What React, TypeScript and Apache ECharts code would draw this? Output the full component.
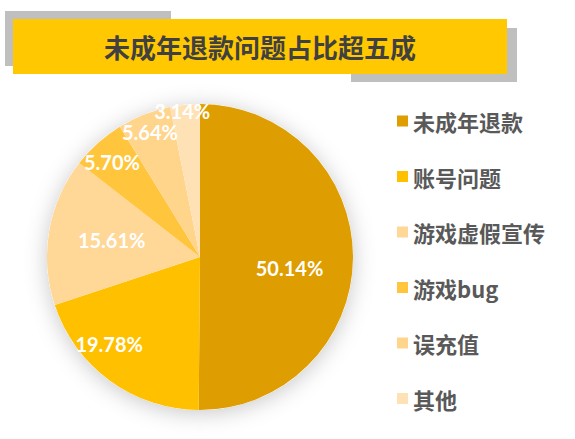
import React, { useEffect, useRef } from "react";
import * as echarts from "echarts";

const titleText = "未成年退款问题占比超五成";
const categories = ["未成年退款", "账号问题", "游戏虚假宣传", "游戏bug", "误充值", "其他"];
const values = [50.14, 19.78, 15.61, 5.7, 5.64, 3.14];
const colors = ["#DE9D00", "#FFC000", "#FFD796", "#FFC53C", "#FFD48B", "#FFE1B6"];
// label nudges (styling, px) relative to the default inside position
const labelOffsets: [number, number][] = [
  [10, 11],
  [-44, 23],
  [-10, -3],
  [-35, -36],
  [-21, -51],
  [-10, -67],
];

export default function App() {
  const ref = useRef<HTMLDivElement>(null);
  useEffect(() => {
    if (!ref.current) return;
    const chart = echarts.init(ref.current, null, { renderer: "svg" });
    const option: any = {
      animation: false,
      backgroundColor: "#ffffff",
      graphic: [
        { type: "rect", shape: { x: 5, y: 11, width: 166, height: 55 }, style: { fill: "#BFBFBF" }, z: 1 },
        { type: "rect", shape: { x: 351, y: 28, width: 166, height: 54 }, style: { fill: "#BFBFBF" }, z: 1 },
        { type: "rect", shape: { x: 13, y: 19, width: 494, height: 55 }, style: { fill: "#FFC800" }, z: 2 },
        {
          type: "text",
          x: 260,
          y: 46,
          z: 3,
          style: {
            text: titleText,
            fill: "#404040",
            font: "bold 26px 'Noto Sans CJK SC'",
            align: "center",
            verticalAlign: "middle",
          },
        },
      ],
      legend: {
        orient: "vertical",
        left: 392,
        top: 105,
        padding: 5,
        itemWidth: 11,
        itemHeight: 11,
        itemGap: 33.5,
        icon: "rect",
        data: categories,
        textStyle: {
          color: "#595959",
          fontSize: 22,
          lineHeight: 22,
          fontWeight: "bold",
          fontFamily: "'Noto Sans CJK SC'",
        },
      },
      series: [
        {
          type: "pie",
          silent: true,
          center: [200, 257],
          radius: 153,
          z: 1,
          label: { show: false },
          labelLine: { show: false },
          legendHoverLink: false,
          data: [{ value: 1, name: "_bg", itemStyle: { color: "#ffffff", shadowBlur: 22, shadowColor: "rgba(0,0,0,0.22)", shadowOffsetY: 3 } }],
        },
        {
          type: "pie",
          center: [200, 257],
          radius: 153,
          startAngle: 90,
          clockwise: true,
          z: 2,
          label: {
            show: true,
            position: "inside",
            color: "#ffffff",
            fontSize: 20,
            fontWeight: "bold",
            fontFamily: "Lato",
            formatter: (p: any) => p.value.toFixed(2) + "%",
          },
          labelLine: { show: false },
          data: categories.map((name, i) => ({
            name,
            value: values[i],
            itemStyle: { color: colors[i] },
            label: { offset: labelOffsets[i] },
          })),
        },
      ],
    };
    chart.setOption(option);
    return () => chart.dispose();
  }, []);
  return (
    <div
      ref={ref}
      style={{ position: "fixed", left: 0, top: 0, width: 575, height: 439 }}
    />
  );
}
